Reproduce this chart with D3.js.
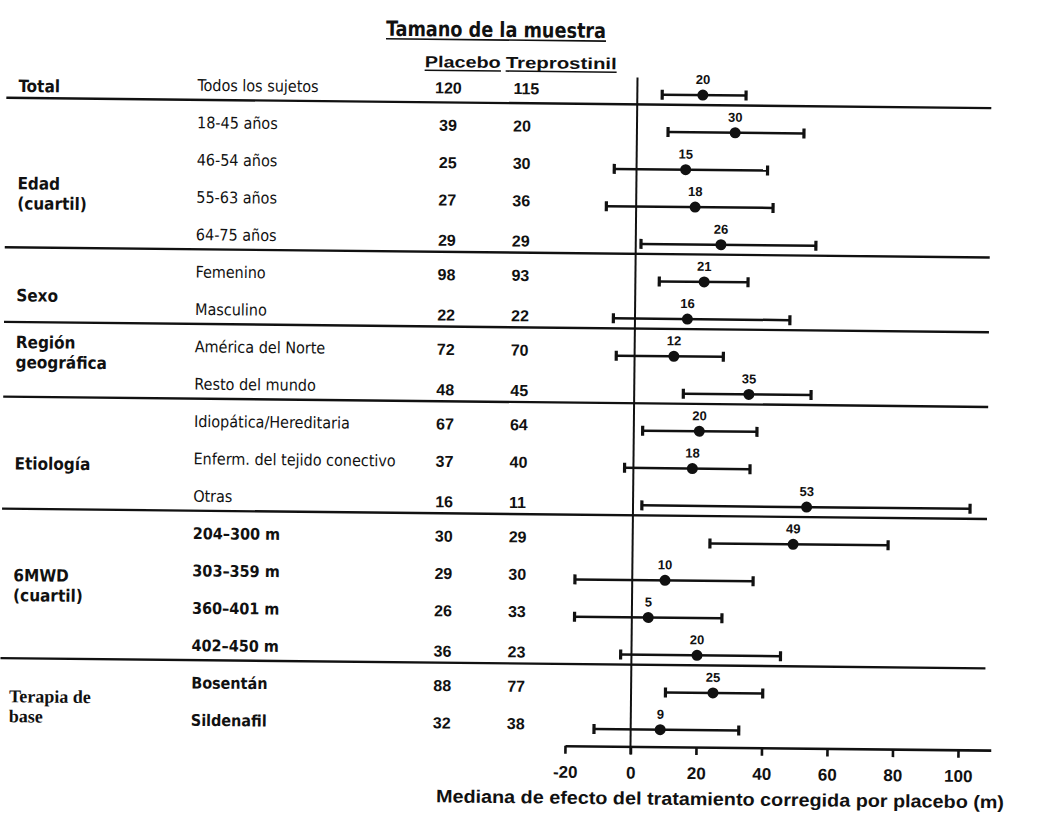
<!DOCTYPE html>
<html>
<head>
<meta charset="utf-8">
<script src="https://cdn.jsdelivr.net/npm/d3@7"></script>
<style>
  body { margin: 0; background: #fff; }
</style>
</head>
<body>
<svg id="chart" width="1038" height="823"></svg>
<script>
// ---- data ----
const groupNames = ["Total", "Edad|(cuartil)", "Sexo", "Región|geográfica", "Etiología", "6MWD|(cuartil)", "Terapia de|base"];
const subgroups = [
  "Todos los sujetos",
  "18-45 años", "46-54 años", "55-63 años", "64-75 años",
  "Femenino", "Masculino",
  "América del Norte", "Resto del mundo",
  "Idiopática/Hereditaria", "Enferm. del tejido conectivo", "Otras",
  "204–300 m", "303–359 m", "360–401 m", "402–450 m",
  "Bosentán", "Sildenafil"
];
const subgroupGroup = [0, 1, 1, 1, 1, 2, 2, 3, 3, 4, 4, 4, 5, 5, 5, 5, 6, 6];
const placeboN = [120, 39, 25, 27, 29, 98, 22, 72, 48, 67, 37, 16, 30, 29, 26, 36, 88, 32];
const treproN  = [115, 20, 30, 36, 29, 93, 22, 70, 45, 64, 40, 11, 29, 30, 33, 23, 77, 38];
const medians  = [20, 30, 15, 18, 26, 21, 16, 12, 35, 20, 18, 53, 49, 10, 5, 20, 25, 9];
const ciLow    = [7.6, 9.5, -6.8, -9.1, 1.6, 7.3, -6.6, -5.6, 15, 2.7, -2.7, 2.7, 23.6, -17.5, -17.5, -3.3, 10.5, -11.2];
const ciHigh   = [33.2, 51, 40, 41.8, 55, 34.4, 47.3, 27.1, 54, 37.6, 35.6, 102.9, 78, 36.9, 27.5, 45.5, 40.2, 33];
const tickValues = [-20, 0, 20, 40, 60, 80, 100];

const TITLE = "Tamano de la muestra";
const COL_PLACEBO = "Placebo";
const COL_TREPRO = "Treprostinil";
const X_TITLE = "Mediana de efecto del tratamiento corregida por placebo (m)";

// ---- styles ----
const INK = "#111";
const NARROW = "'Liberation Sans Narrow','Arial Narrow','DejaVu Sans Condensed',sans-serif";
const SANS = "'Liberation Sans',Arial,sans-serif";
const SERIF = "'Liberation Serif','Times New Roman',serif";

const svg = d3.select("#chart");
svg.append("rect").attr("width", 1038).attr("height", 823).attr("fill", "#fff");

// the scan is tilted a little, so the whole sheet gets the same tilt
const g = svg.append("g").attr("transform", "rotate(0.6 500 420)");

const y = d3.scalePoint().domain(d3.range(subgroups.length)).range([93, 728]);
const x = d3.scaleLinear().domain([-20, 110]).range([568.4, 994.2]);
const axisY = 745;

// header
const title = g.append("text")
  .attr("x", 382).attr("y", 37)
  .attr("textLength", 220).attr("lengthAdjust", "spacingAndGlyphs")
  .attr("font-family", NARROW).attr("font-weight", "bold").attr("font-size", 21)
  .attr("fill", INK)
  .text(TITLE);
underline(title, 3);

const hPlac = g.append("text")
  .attr("x", 421).attr("y", 68)
  .attr("textLength", 76).attr("lengthAdjust", "spacingAndGlyphs")
  .attr("font-family", SANS).attr("font-weight", "bold").attr("font-size", 16)
  .attr("fill", INK).text(COL_PLACEBO);
underline(hPlac, 3);
const hTrep = g.append("text")
  .attr("x", 502).attr("y", 68)
  .attr("textLength", 111).attr("lengthAdjust", "spacingAndGlyphs")
  .attr("font-family", SANS).attr("font-weight", "bold").attr("font-size", 16)
  .attr("fill", INK).text(COL_TREPRO);
underline(hTrep, 3);

// group labels
const groupNudge = { 0: -4, 1: 10, 3: -18, 5: -9 };
groupNames.forEach((name, gi) => {
  const rows = d3.range(subgroups.length).filter(i => subgroupGroup[i] === gi);
  const mid = (y(rows[0]) + y(rows[rows.length - 1])) / 2;
  const lines = name.split("|");
  const serif = gi === groupNames.length - 1;
  lines.forEach((ln, li) => {
    g.append("text")
      .attr("x", serif ? 12 : 15)
      .attr("y", mid + 8 + (li - (lines.length - 1) / 2) * 20 + (groupNudge[gi] || 0))
      .attr("font-family", serif ? SERIF : NARROW)
      .attr("font-weight", "bold")
      .attr("font-size", serif ? 18 : 17)
      .attr("fill", INK)
      .text(ln);
  });
  // separator under each group except the last
  if (gi < groupNames.length - 1) {
    const sy = y(rows[rows.length - 1]) + 10;
    g.append("line")
      .attr("x1", 3).attr("x2", 988)
      .attr("y1", sy).attr("y2", sy)
      .attr("stroke", INK).attr("stroke-width", 2.4);
  }
});

const isLastOfGroup = i => i < subgroups.length - 1 && i > 0 && subgroupGroup[i + 1] !== subgroupGroup[i];

// subgroup labels
g.selectAll(".sub").data(subgroups).enter().append("text")
  .attr("class", "sub")
  .attr("x", 194)
  .attr("y", (d, i) => y(i) + 1)
  .attr("font-family", NARROW)
  .attr("font-size", 16)
  .attr("font-weight", (d, i) => (i >= 12 ? "bold" : "normal"))
  .attr("fill", INK)
  .text(d => d);

// sample sizes
g.selectAll(".np").data(placeboN).enter().append("text")
  .attr("class", "np")
  .attr("x", 445)
  .attr("y", (d, i) => y(i) + 1 + (isLastOfGroup(i) ? 3 : 0))
  .attr("text-anchor", "middle")
  .attr("font-family", SANS).attr("font-weight", "bold").attr("font-size", 16)
  .attr("fill", INK)
  .text(d => d);
g.selectAll(".nt").data(treproN).enter().append("text")
  .attr("class", "nt")
  .attr("x", 510)
  .attr("y", (d, i) => y(i) + 1 + (isLastOfGroup(i) ? 3 : 0))
  .attr("font-family", SANS).attr("font-weight", "bold").attr("font-size", 16)
  .attr("fill", INK)
  .text(d => d);

// zero reference line
g.append("line")
  .attr("x1", x(0)).attr("x2", x(0))
  .attr("y1", 76).attr("y2", axisY + 8)
  .attr("stroke", INK).attr("stroke-width", 2);

// confidence intervals
const ci = g.selectAll(".ci").data(medians).enter().append("g").attr("class", "ci");
ci.append("line")
  .attr("x1", (d, i) => x(ciLow[i])).attr("x2", (d, i) => x(ciHigh[i]))
  .attr("y1", (d, i) => y(i)).attr("y2", (d, i) => y(i))
  .attr("stroke", INK).attr("stroke-width", 2.5);
ci.append("line")
  .attr("x1", (d, i) => x(ciLow[i])).attr("x2", (d, i) => x(ciLow[i]))
  .attr("y1", (d, i) => y(i) - 5).attr("y2", (d, i) => y(i) + 5)
  .attr("stroke", INK).attr("stroke-width", 3.2);
ci.append("line")
  .attr("x1", (d, i) => x(ciHigh[i])).attr("x2", (d, i) => x(ciHigh[i]))
  .attr("y1", (d, i) => y(i) - 5).attr("y2", (d, i) => y(i) + 5)
  .attr("stroke", INK).attr("stroke-width", 3.2);
ci.append("circle")
  .attr("cx", d => x(d)).attr("cy", (d, i) => y(i))
  .attr("r", 5.5).attr("fill", INK);
ci.append("text")
  .attr("x", d => x(d)).attr("y", (d, i) => y(i) - 11)
  .attr("text-anchor", "middle")
  .attr("font-family", SANS).attr("font-weight", "bold").attr("font-size", 13)
  .attr("fill", INK)
  .text(d => d);

// x axis
const axis = g.append("g")
  .attr("transform", `translate(0,${axisY})`)
  .call(d3.axisBottom(x).tickValues(tickValues).tickFormat(d => String(d))
    .tickSize(8).tickPadding(12).tickSizeOuter(0));
axis.select(".domain").attr("stroke", INK).attr("stroke-width", 2.6);
axis.selectAll(".tick line").attr("stroke", INK).attr("stroke-width", 2.6);
axis.selectAll(".tick text")
  .attr("font-family", SANS).attr("font-weight", "bold").attr("font-size", 17)
  .attr("fill", INK);

g.append("text")
  .attr("x", 440).attr("y", 803)
  .attr("textLength", 568).attr("lengthAdjust", "spacingAndGlyphs")
  .attr("font-family", SANS).attr("font-weight", "bold").attr("font-size", 18)
  .attr("fill", INK)
  .text(X_TITLE);

function underline(sel, dy) {
  const b = sel.node().getBBox();
  const ly = +sel.attr("y") + dy;
  g.append("line")
    .attr("x1", b.x).attr("x2", b.x + b.width)
    .attr("y1", ly).attr("y2", ly)
    .attr("stroke", INK).attr("stroke-width", 1.6);
}
</script>
</body>
</html>
